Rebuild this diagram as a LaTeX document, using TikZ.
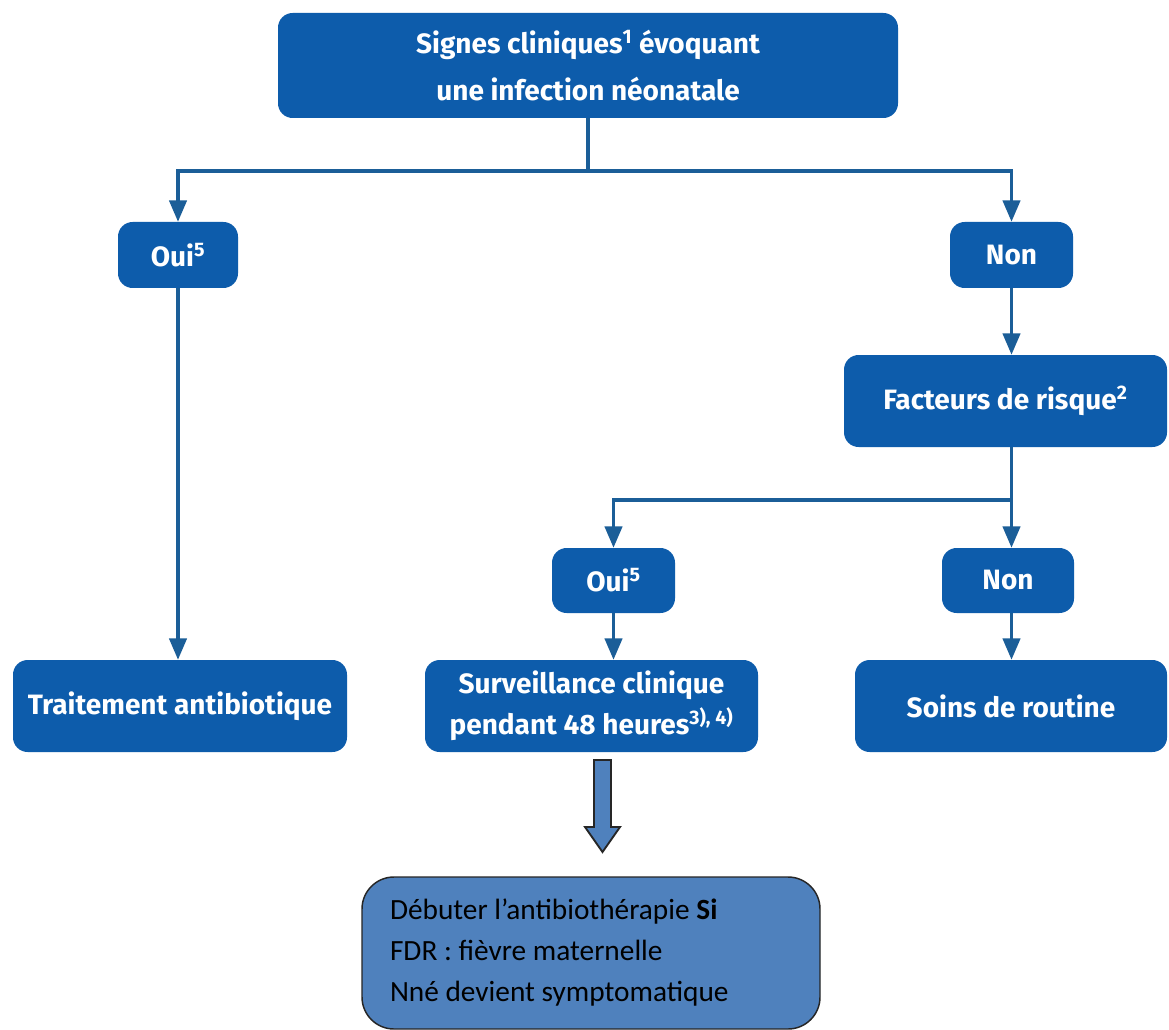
\documentclass[tikz,border=0pt]{standalone}
\usepackage{fontspec}
\setmainfont{Carlito}
\newfontfamily\boitefont{Fira Sans}
\usetikzlibrary{arrows.meta}
\usetikzlibrary{positioning,calc}
\definecolor{bleuBoite}{HTML}{0D5CAB}
\definecolor{bleuLien}{HTML}{1B5E98}
\definecolor{bleuNote}{HTML}{4F81BD}

\begin{document}
\begin{tikzpicture}[x=0.75pt,y=-0.75pt,
	boite/.style={fill=bleuBoite, rounded corners=11pt, text=white, align=center, inner sep=0pt,
		font=\boitefont\bfseries\fontsize{21}{31}\selectfont},
	lien/.style={draw=bleuLien, line width=2.4pt, -{Triangle[length=16pt,width=13pt]}},
	%fleche/.style={draw=black!85, line width=1.4pt, fill=bleuNote}
	]
\fill[white] (0,0) rectangle (1169,1030);
\useasboundingbox (0,0) rectangle (1169,1030);

\node[boite, minimum width=465pt, minimum height=78.75pt, font=\boitefont\bfseries\fontsize{21}{35}\selectfont]
	(Signes) at (588,65.5) {Signes cliniques\textsuperscript{1} évoquant\\une infection néonatale};

\node[boite, minimum width=90pt, minimum height=49.5pt] (Oui1) at (178,255) {Oui\textsuperscript{5}};
\node[boite, minimum width=92.25pt, minimum height=49.5pt] (Non1) at (1011.5,255) {Non};
\node[boite, minimum width=242.25pt, minimum height=69pt] (Facteurs) at (1005.5,401) {Facteurs de risque\textsuperscript{2}};

\node[boite, minimum width=92.25pt, minimum height=48.75pt] (Oui2) at (613.5,580.5) {Oui\textsuperscript{5}};
\node[boite, minimum width=99pt, minimum height=48.75pt] (Non2) at (1008,580.5) {Non};

\node[boite, minimum width=250.5pt, minimum height=69pt] (Traitement) at (180,706) {Traitement antibiotique};
\node[boite, minimum width=249.75pt, minimum height=69pt] (Surveillance) at (591.5,706)
	{Surveillance clinique\\pendant 48 heures\textsuperscript{3), 4)}};
\node[boite, minimum width=234pt, minimum height=69pt] (Soins) at (1011,706) {Soins de routine};

\node[draw=black!85, line width=1.1pt, fill=bleuNote, rounded corners=24pt,
	minimum width=343.5pt, minimum height=114pt, text width=301.5pt, inner xsep=21pt,
	align=flush left, font=\fontsize{22}{30.75}\selectfont]
	(Debuter) at (591,953) {Débuter l’antibiothérapie \textbf{Si}\\FDR : fièvre maternelle\\Nné devient symptomatique};

% liens
\coordinate (haut) at (588,171);
\coordinate (fourche) at (1011.5,500);
\draw[lien] (Signes.south) -- (haut) -| (Oui1.north);
\draw[lien] (haut) -| (Non1.north);
\draw[lien] (Oui1.south) -- (Oui1.south |- Traitement.north);
\draw[lien] (Non1.south) -- (Non1.south |- Facteurs.north);
\draw[lien] (Non1.south |- Facteurs.south) -- (Non1.south |- Non2.north);
\draw[lien] (fourche) -| (Oui2.north);
\draw[lien] (Oui2.south) -- (Oui2.south |- Surveillance.north);
\draw[lien] (Non1.south |- Non2.south) -- (Non1.south |- Soins.north);

% grosse fleche
\draw[draw=black!85, line width=1.4pt, fill=bleuNote]
	(594,760) -- (611,760) -- (611,827) -- (620,827) -- (602.5,852) -- (585,827) -- (594,827) -- cycle;

\end{tikzpicture}
\end{document}
